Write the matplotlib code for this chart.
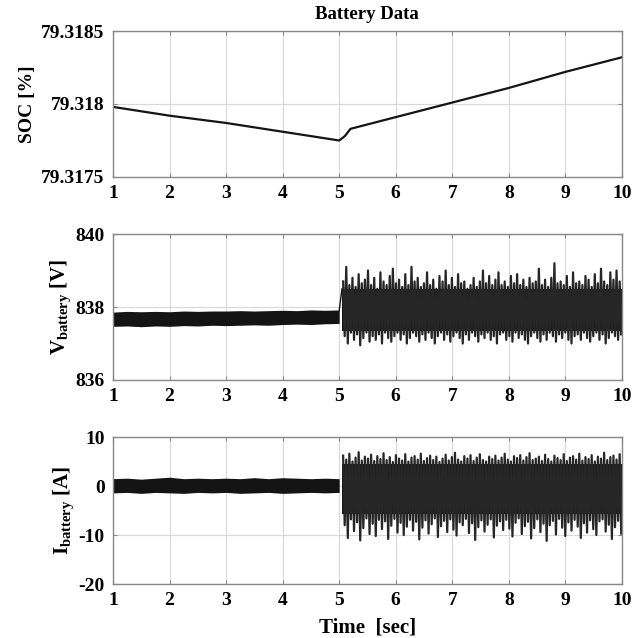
import numpy as np
import matplotlib.pyplot as plt

plt.rcParams['font.family'] = 'Liberation Serif'
plt.rcParams['font.weight'] = 'bold'
plt.rcParams['axes.labelweight'] = 'bold'
plt.rcParams['axes.unicode_minus'] = False
plt.rcParams['mathtext.fontset'] = 'custom'
plt.rcParams['mathtext.rm'] = 'Liberation Serif:bold'
plt.rcParams['mathtext.bf'] = 'Liberation Serif:bold'
plt.rcParams['mathtext.it'] = 'Liberation Serif:bold'

# SOC trace
soc_t = [1, 2, 3, 4, 5, 5.1, 5.2, 5.3, 6, 7, 8, 9, 10]
soc_v = [79.31798, 79.31792, 79.31787, 79.31781, 79.31775, 79.31778, 79.31783,
         79.31784, 79.31791, 79.31801, 79.31811, 79.31822, 79.31832]

# envelope before the step (t = 1 ... 5, every 0.25 s)
pre_t = [1, 1.25, 1.5, 1.75, 2, 2.25, 2.5, 2.75, 3, 3.25, 3.5, 3.75, 4, 4.25, 4.5, 4.75, 5]
v_pre_hi = [837.86, 837.88, 837.87, 837.88, 837.87, 837.89, 837.88, 837.89, 837.89,
            837.90, 837.89, 837.90, 837.91, 837.90, 837.92, 837.91, 837.92]
v_pre_lo = [837.47, 837.48, 837.46, 837.48, 837.47, 837.49, 837.48, 837.50, 837.49,
            837.50, 837.51, 837.50, 837.52, 837.53, 837.52, 837.54, 837.55]
i_pre_hi = [1.5, 1.6, 1.4, 1.6, 1.8, 1.5, 1.6, 1.5, 1.6, 1.5, 1.7, 1.5, 1.7, 1.6, 1.5, 1.6, 1.5]
i_pre_lo = [-1.4, -1.3, -1.5, -1.3, -1.4, -1.5, -1.3, -1.4, -1.3, -1.5, -1.4, -1.3, -1.5,
            -1.4, -1.3, -1.4, -1.3]

# oscillation band after the step (core envelope)
v_core = (837.35, 838.5)
i_core = (-5.8, 4.4)

# peaks of the oscillation after the step
v_hi = [838.7, 839.1, 838.6, 838.8, 838.55, 838.9, 838.65, 838.75, 839.0, 838.6,
        838.8, 838.5, 838.95, 838.7, 838.6, 838.85, 839.05, 838.65, 838.75, 838.55,
        838.9, 838.6, 839.1, 838.7, 838.8, 838.55, 838.65, 838.95, 838.6, 838.75,
        838.5, 838.85, 838.7, 839.0, 838.6, 838.8, 838.55, 838.9, 838.65, 838.7,
        838.5, 838.6, 838.8, 838.55, 838.7, 839.0, 838.65, 838.85, 838.6, 838.75,
        838.95, 838.6, 838.7, 838.55, 838.85, 838.65, 838.9, 838.6, 838.75, 838.55,
        838.8, 838.65, 838.7, 839.05, 838.6, 838.75, 838.55, 838.8, 839.2, 838.65,
        838.7, 838.6, 838.85, 838.55, 838.95, 838.65, 838.7, 838.6, 838.85, 838.75,
        838.55, 838.9, 838.65, 839.05, 838.7, 838.6, 838.95, 838.75, 839.0, 838.7]
v_lo = [837.2, 837.0, 837.3, 837.1, 837.25, 836.95, 837.15, 837.3, 837.05, 837.2,
        837.1, 837.25, 837.0, 837.3, 837.15, 837.05, 837.2, 837.3, 837.1, 837.25,
        837.0, 837.15, 837.3, 837.2, 837.05, 837.25, 837.1, 837.3, 837.15, 837.0,
        837.2, 837.3, 837.1, 837.25, 837.05, 837.2, 837.3, 837.15, 837.0, 837.25,
        837.1, 837.3, 837.2, 837.05, 837.25, 837.15, 837.3, 837.1, 837.2, 837.0,
        837.25, 837.3, 837.1, 837.2, 837.05, 837.3, 837.15, 837.25, 837.1, 837.0,
        837.2, 837.3, 837.15, 837.05, 837.25, 837.1, 837.3, 837.2, 837.05, 837.25,
        837.15, 837.3, 837.1, 837.0, 837.2, 837.25, 837.1, 837.3, 837.15, 837.05,
        837.2, 837.3, 837.1, 837.25, 837.0, 837.15, 837.3, 837.2, 837.1, 837.25]
i_hi = [6.2, 5.4, 6.6, 5.0, 5.8, 6.9, 5.2, 6.0, 5.6, 6.4, 5.1, 6.1, 5.5, 6.7, 5.3,
        5.9, 4.9, 6.3, 5.6, 5.2, 6.5, 5.0, 5.8, 6.1, 5.4, 6.6, 5.1, 5.7, 6.2, 5.3,
        6.0, 4.9, 5.6, 6.4, 5.2, 5.9, 6.8, 5.4, 5.0, 6.1, 5.6, 6.3, 5.1, 5.8, 6.5,
        5.3, 5.0, 6.0, 5.5, 6.2, 5.2, 5.8, 6.6, 5.4, 5.0, 6.1, 5.7, 6.3, 5.2, 5.9,
        6.7, 5.3, 5.6, 6.0, 5.1, 6.4, 5.5, 5.0, 6.2, 5.7, 5.3, 6.5, 5.1, 5.8, 6.1,
        5.4, 6.6, 5.2, 5.9, 5.5, 6.3, 5.0, 6.0, 5.6, 6.8, 5.3, 5.9, 6.2, 5.4, 6.5]
i_lo = [-8.0, -10.6, -6.8, -9.2, -7.4, -11.1, -8.6, -6.6, -9.8, -7.7, -10.2, -6.9,
        -8.8, -7.2, -10.8, -8.1, -6.7, -9.5, -7.5, -10.0, -8.3, -6.9, -9.1, -7.3,
        -10.9, -8.5, -7.0, -9.7, -7.8, -6.6, -10.4, -8.2, -7.1, -9.4, -6.8, -8.9,
        -10.1, -7.4, -8.0, -6.7, -9.6, -7.6, -11.0, -8.4, -7.0, -9.3, -7.9, -6.8,
        -10.5, -8.1, -7.2, -9.0, -6.9, -8.7, -10.3, -7.5, -6.6, -9.8, -8.2, -7.3,
        -10.7, -8.6, -6.8, -9.4, -7.7, -11.2, -8.0, -7.1, -9.9, -6.7, -8.5, -10.2,
        -7.4, -9.1, -6.9, -8.3, -10.6, -7.6, -9.5, -7.0, -8.8, -10.0, -7.2, -6.8,
        -9.3, -7.9, -10.8, -8.4, -7.1, -9.7]

fig = plt.figure(figsize=(6.33, 6.38), dpi=100)
left, width, height = 0.1785, 0.804, 0.2288
ax1 = fig.add_axes([left, 0.7226, width, height])
ax2 = fig.add_axes([left, 0.4044, width, height])
ax3 = fig.add_axes([left, 0.0846, width, 0.2304])

ink = '#141414'


def osc_trace(ax, hi, lo, core):
    # zigzag between upper and lower peaks, over a filled core band
    n = len(hi)
    t_hi = np.linspace(5.07, 9.96, n)
    t_lo = t_hi + (t_hi[1] - t_hi[0]) / 2
    tt = np.empty(2 * n)
    yy = np.empty(2 * n)
    tt[0::2], tt[1::2] = t_hi, t_lo
    yy[0::2], yy[1::2] = hi, lo
    ax.fill_between([5.05, 10], core[0], core[1], color=ink, lw=0)
    ax.plot(tt, yy, color='#262626', lw=1.6)


# SOC
ax1.plot(soc_t, soc_v, color=ink, lw=1.6)
ax1.set_ylim(79.3175, 79.3185)
ax1.set_yticks([79.3175, 79.318, 79.3185])
ax1.set_yticklabels(['79.3175', '79.318', '79.3185'])
ax1.set_ylabel('SOC [%]', fontsize=14, fontweight='bold', labelpad=4)

# battery voltage
ax2.fill_between(pre_t, v_pre_lo, v_pre_hi, color=ink, lw=0)
ax2.plot([5, 5.05], [837.9, 838.5], color=ink, lw=1)
osc_trace(ax2, v_hi, v_lo, v_core)
ax2.set_ylim(836, 840)
ax2.set_yticks([836, 838, 840])
ax2.set_ylabel(r'$\mathbf{V_{battery}}$ [V]', fontsize=15, fontweight='bold', labelpad=2)

# battery current
ax3.fill_between(pre_t, i_pre_lo, i_pre_hi, color=ink, lw=0)
osc_trace(ax3, i_hi, i_lo, i_core)
ax3.set_ylim(-20, 10)
ax3.set_yticks([-20, -10, 0, 10])
ax3.set_ylabel(r'$\mathbf{I_{battery}}$ [A]', fontsize=15, fontweight='bold', labelpad=2)

for ax in (ax1, ax2, ax3):
    ax.set_xlim(1, 10)
    ax.set_xticks(range(1, 11))
    ax.grid(True, color='#d8d8d8', lw=0.8)
    ax.set_axisbelow(True)
    ax.tick_params(direction='in', top=True, right=True, length=3,
                   color='#888888', labelsize=14, pad=6)
    for s in ax.spines.values():
        s.set_color('#888888')
        s.set_linewidth(1.0)
    for lbl in ax.get_xticklabels() + ax.get_yticklabels():
        lbl.set_fontweight('bold')

fig.text(0.58, 0.978, 'Battery Data', ha='center', va='center', fontsize=13.5, fontweight='bold')
fig.text(0.58, 0.017, 'Time  [sec]', ha='center', va='center', fontsize=15, fontweight='bold')

fig.savefig('out.png', dpi=100, facecolor='white')
